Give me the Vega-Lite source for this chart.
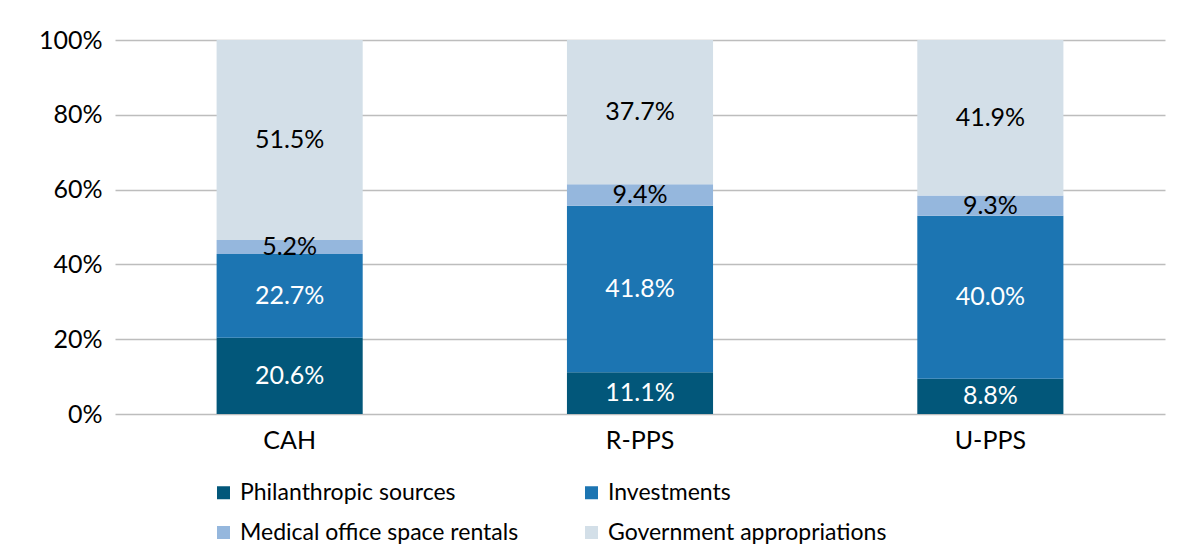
{
  "$schema": "https://vega.github.io/schema/vega-lite/v6.json",
  "width": 1050,
  "height": 374,
  "autosize": {"type": "none"},
  "padding": {"left": 115, "top": 40, "right": 33, "bottom": 144},
  "background": "white",
  "config": {
    "view": {"stroke": null},
    "font": "Lato",
    "axis": {"labelFont": "Lato", "labelColor": "#000000"},
    "legend": {"labelFont": "Lato"}
  },
  "data": {
    "values": [
      {"group": "CAH", "source": "Philanthropic sources", "rank": 1, "share": 20.4, "label": "20.6%"},
      {"group": "CAH", "source": "Investments", "rank": 2, "share": 22.4, "label": "22.7%"},
      {"group": "CAH", "source": "Medical office space rentals", "rank": 3, "share": 3.7, "label": "5.2%"},
      {"group": "CAH", "source": "Government appropriations", "rank": 4, "share": 53.5, "label": "51.5%"},
      {"group": "R-PPS", "source": "Philanthropic sources", "rank": 1, "share": 11.15, "label": "11.1%"},
      {"group": "R-PPS", "source": "Investments", "rank": 2, "share": 44.5, "label": "41.8%"},
      {"group": "R-PPS", "source": "Medical office space rentals", "rank": 3, "share": 5.8, "label": "9.4%"},
      {"group": "R-PPS", "source": "Government appropriations", "rank": 4, "share": 38.55, "label": "37.7%"},
      {"group": "U-PPS", "source": "Philanthropic sources", "rank": 1, "share": 9.4, "label": "8.8%"},
      {"group": "U-PPS", "source": "Investments", "rank": 2, "share": 43.6, "label": "40.0%"},
      {"group": "U-PPS", "source": "Medical office space rentals", "rank": 3, "share": 5.4, "label": "9.3%"},
      {"group": "U-PPS", "source": "Government appropriations", "rank": 4, "share": 41.6, "label": "41.9%"}
    ]
  },
  "transform": [
    {"stack": "share", "groupby": ["group"], "sort": [{"field": "rank", "order": "ascending"}], "as": ["y0", "y1"], "offset": "normalize"},
    {"calculate": "(datum.y0 + datum.y1) / 2", "as": "ymid"}
  ],
  "encoding": {
    "x": {
      "field": "group",
      "type": "nominal",
      "sort": ["CAH", "R-PPS", "U-PPS"],
      "scale": {"paddingInner": 0.583, "paddingOuter": 0.29},
      "axis": {"title": null, "labelAngle": 0, "labelFontSize": 25, "ticks": false, "domain": false, "labelPadding": 14}
    }
  },
  "layer": [
    {
      "mark": {"type": "bar"},
      "encoding": {
        "y": {
          "field": "y0",
          "type": "quantitative",
          "scale": {"domain": [0, 1]},
          "axis": {
            "title": null,
            "format": ".0%",
            "values": [0, 0.2, 0.4, 0.6, 0.8, 1],
            "labelFontSize": 25,
            "labelPadding": 13,
            "ticks": false,
            "domain": false,
            "grid": true,
            "gridColor": "#BDBDBD",
            "gridWidth": 1.5
          }
        },
        "y2": {"field": "y1"},
        "color": {
          "field": "source",
          "type": "nominal",
          "scale": {
            "domain": ["Philanthropic sources", "Investments", "Medical office space rentals", "Government appropriations"],
            "range": ["#02577A", "#1C75B2", "#95B7DD", "#D3DFE8"]
          },
          "legend": {
            "title": null,
            "orient": "none",
            "legendX": 97,
            "legendY": 441,
            "direction": "horizontal",
            "columns": 2,
            "columnPadding": 61,
            "rowPadding": 16,
            "symbolType": "square",
            "symbolSize": 169,
            "symbolStrokeWidth": 0,
            "labelFontSize": 23,
            "labelLimit": 600,
            "labelColor": "#000000",
            "labelOffset": 5
          }
        }
      }
    },
    {
      "mark": {"type": "text", "fontSize": 25, "baseline": "middle", "align": "center"},
      "encoding": {
        "y": {"field": "ymid", "type": "quantitative"},
        "text": {"field": "label"},
        "color": {"condition": {"test": "datum.rank <= 2", "value": "#FFFFFF"}, "value": "#000000"}
      }
    }
  ]
}
